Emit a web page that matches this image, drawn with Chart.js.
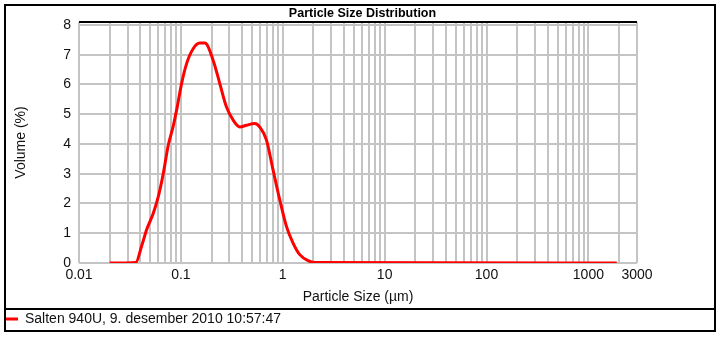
<!DOCTYPE html>
<html>
<head>
<meta charset="utf-8">
<script src="https://cdn.jsdelivr.net/npm/chart.js@4/dist/chart.umd.min.js"></script>
<style>
  html, body { margin: 0; padding: 0; background: #fff; }
  #wrap { width: 722px; height: 339px; }
</style>
</head>
<body>
<div id="wrap"><canvas id="psdChart" width="722" height="339"></canvas></div>
<script>
// particle size (µm) and volume (%)
const sizes = [0.02, 0.0362, 0.0411, 0.0461, 0.0536, 0.060, 0.0672, 0.0751, 0.0841, 0.092, 0.1016,
    0.1138, 0.132, 0.1535, 0.172, 0.2075, 0.241, 0.2805, 0.326, 0.379, 0.44, 0.531, 0.595, 0.692,
    0.804, 0.935, 1.087, 1.262, 1.469, 1.77, 2.06, 1900];
const volumes = [0, 0.02, 0.56, 1.12, 1.67, 2.23, 3.01, 3.95, 4.6, 5.24, 6.03,
    6.70, 7.20, 7.39, 7.39, 6.81, 6.03, 5.24, 4.80, 4.57, 4.63, 4.69, 4.57, 4.13,
    3.12, 2.12, 1.23, 0.67, 0.28, 0.08, 0.02, 0];
const xTickLabels = [0.01, 0.1, 1, 10, 100, 1000, 3000];
const seriesName = 'Salten 940U, 9. desember 2010 10:57:47';

// grid positions: every 1..9 step of each decade up to 1000, then 2000 and 3000
const xGrid = [];
for (let d = 0.01; d < 150; d *= 10) {
    for (let m = 1; m <= 9; m++) xGrid.push(+(d * m).toPrecision(3));
}
xGrid.push(1000, 2000, 3000);

const font = 'Liberation Sans, Arial, sans-serif';

// frame, top rule and legend divider
const framePlugin = {
    id: 'frame',
    afterDraw(chart) {
        const c = chart.ctx;
        const a = chart.chartArea;
        c.save();
        c.strokeStyle = '#000';
        c.lineWidth = 2;
        c.beginPath();
        c.moveTo(a.left, a.top);
        c.lineTo(a.right, a.top);
        c.stroke();
        c.strokeRect(5, 5, 710, 326);
        c.beginPath();
        c.moveTo(5, chart.legend.top);
        c.lineTo(715, chart.legend.top);
        c.stroke();
        c.restore();
    }
};

function initChart() {
    const ctx = document.getElementById('psdChart').getContext('2d');
    new Chart(ctx, {
        type: 'line',
        data: {
            datasets: [{
                label: seriesName,
                data: sizes.map((s, i) => ({ x: s, y: volumes[i] })),
                borderColor: '#ff0000',
                backgroundColor: '#ff0000',
                borderWidth: 3,
                pointRadius: 0,
                cubicInterpolationMode: 'monotone',
                fill: false
            }]
        },
        options: {
            responsive: false,
            animation: false,
            layout: { padding: { left: 3, right: 0, top: 0, bottom: 3 } },
            scales: {
                x: {
                    type: 'logarithmic',
                    min: 0.01,
                    max: 3000,
                    afterBuildTicks: (scale) => { scale.ticks = xGrid.map(v => ({ value: v })); },
                    afterFit: (scale) => { scale.height = 46; },
                    grid: { color: '#c4c4c4', lineWidth: 2, drawTicks: false },
                    border: { display: false },
                    ticks: {
                        autoSkip: false,
                        maxRotation: 0,
                        padding: 4,
                        color: '#111',
                        font: { family: font, size: 14 },
                        callback: (v) => xTickLabels.includes(v) ? String(v) : ''
                    },
                    title: {
                        display: true,
                        text: 'Particle Size (µm)',
                        color: '#111',
                        font: { family: font, size: 14 },
                        padding: { top: 4, bottom: 3 }
                    }
                },
                y: {
                    min: 0,
                    max: 8.1,
                    afterFit: (scale) => { scale.width = 76; },
                    grid: { color: '#c4c4c4', lineWidth: 2, drawTicks: false },
                    border: { display: false },
                    ticks: {
                        stepSize: 1,
                        includeBounds: false,
                        padding: 8,
                        color: '#111',
                        font: { family: font, size: 14 }
                    },
                    title: {
                        display: true,
                        text: 'Volume (%)',
                        color: '#111',
                        font: { family: font, size: 14 },
                        padding: { top: 10, bottom: 0 }
                    }
                },
                // empty right-hand band so the title centres on the whole canvas
                yPad: {
                    position: 'right',
                    grid: { display: false },
                    border: { display: false },
                    ticks: { display: false },
                    afterFit: (scale) => { scale.width = 85; }
                }
            },
            plugins: {
                title: {
                    display: true,
                    text: 'Particle Size Distribution',
                    color: '#000',
                    font: { family: font, size: 12.5, weight: 'bold' },
                    padding: { top: 6, bottom: 1 }
                },
                legend: {
                    position: 'bottom',
                    align: 'start',
                    labels: {
                        usePointStyle: true,
                        pointStyle: 'line',
                        pointStyleWidth: 12,
                        padding: 3,
                        color: '#111',
                        font: { family: font, size: 14 }
                    }
                },
                tooltip: { enabled: false }
            }
        },
        plugins: [framePlugin]
    });
}

document.addEventListener('DOMContentLoaded', initChart);
</script>
</body>
</html>
